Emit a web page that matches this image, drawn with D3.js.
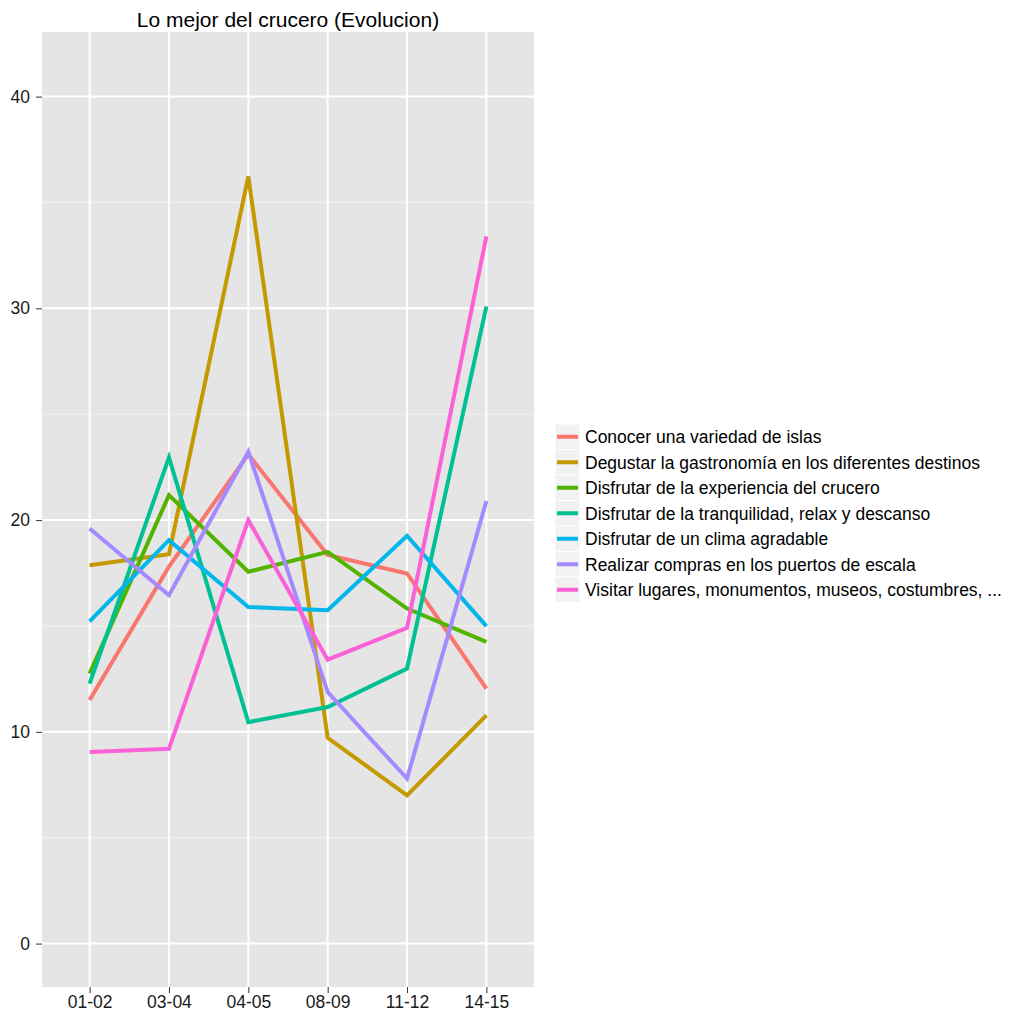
<!DOCTYPE html>
<html><head><meta charset="utf-8">
<script src="https://cdn.jsdelivr.net/npm/d3@7"></script>
<style>body{margin:0;background:#fff;} text{font-family:"Liberation Sans",Arial,sans-serif;}</style>
</head><body>
<script>
const categories = ["01-02","03-04","04-05","08-09","11-12","14-15"];
const seriesNames = [
  "Conocer una variedad de islas",
  "Degustar la gastronomía en los diferentes destinos",
  "Disfrutar de la experiencia del crucero",
  "Disfrutar de la tranquilidad, relax y descanso",
  "Disfrutar de un clima agradable",
  "Realizar compras en los puertos de escala",
  "Visitar lugares, monumentos, museos, costumbres, ..."
];
const conocer      = [11.5, 17.8, 23.1, 18.35, 17.48, 12.04];
const degustar     = [17.87, 18.39, 36.23, 9.72, 7.0, 10.78];
const experiencia  = [12.75, 21.18, 17.56, 18.5, 15.82, 14.25];
const tranquilidad = [12.28, 22.96, 10.46, 11.17, 12.99, 30.09];
const clima        = [15.22, 19.05, 15.9, 15.74, 19.26, 14.99];
const compras      = [19.6, 16.45, 23.23, 11.88, 7.79, 20.9];
const visitar      = [9.05, 9.2, 20.0, 13.41, 14.91, 33.4];
const yTicks = [0, 10, 20, 30, 40];
const yMinor = [5, 15, 25, 35];
const colors = ["#F8766D","#C49A00","#53B400","#00C094","#00B6EB","#A58AFF","#FB61D7"];
const titleText = "Lo mejor del crucero (Evolucion)";

const seriesValues = [conocer, degustar, experiencia, tranquilidad, clima, compras, visitar];
const W = 1011, H = 1014;
const panel = {left: 42, right: 534, top: 32, bottom: 987};
const FONT = "'Liberation Sans',Arial,sans-serif";

const svg = d3.select("body").append("svg").attr("width", W).attr("height", H);

const x = d3.scalePoint().domain(categories).range([panel.left, panel.right]).padding(0.6);
const y = d3.scaleLinear().domain([-2.05, 43.05]).range([panel.bottom, panel.top]);

svg.append("rect").attr("x", panel.left).attr("y", panel.top)
  .attr("width", panel.right - panel.left).attr("height", panel.bottom - panel.top)
  .attr("fill", "#E5E5E5");

const g = svg.append("g");
g.selectAll("line.minor").data(yMinor).join("line")
  .attr("x1", panel.left).attr("x2", panel.right)
  .attr("y1", d => y(d)).attr("y2", d => y(d))
  .attr("stroke", "#F2F2F2").attr("stroke-width", 1);
g.selectAll("line.majy").data(yTicks).join("line")
  .attr("x1", panel.left).attr("x2", panel.right)
  .attr("y1", d => y(d)).attr("y2", d => y(d))
  .attr("stroke", "#fff").attr("stroke-width", 2);
g.selectAll("line.majx").data(categories).join("line")
  .attr("y1", panel.top).attr("y2", panel.bottom)
  .attr("x1", d => x(d)).attr("x2", d => x(d))
  .attr("stroke", "#fff").attr("stroke-width", 2);

const line = d3.line().x((d, i) => x(categories[i])).y(d => y(d));
svg.append("g").selectAll("path").data(seriesValues).join("path")
  .attr("d", d => line(d))
  .attr("fill", "none")
  .attr("stroke", (d, i) => colors[i])
  .attr("stroke-width", 4)
  .attr("stroke-linejoin", "miter")
  .attr("stroke-linecap", "butt");

// axes
const yAxis = svg.append("g").attr("transform", `translate(${panel.left},0)`)
  .call(d3.axisLeft(y).tickValues(yTicks).tickSize(6).tickPadding(6));
yAxis.select(".domain").remove();
yAxis.selectAll(".tick line").attr("stroke", "#333").attr("stroke-width", 1);
yAxis.selectAll(".tick text").attr("fill", "#1a1a1a").style("font-size", "17.5px")
  .style("font-family", FONT);

const xAxis = svg.append("g").attr("transform", `translate(0,${panel.bottom})`)
  .call(d3.axisBottom(x).tickSize(6).tickPadding(3));
xAxis.select(".domain").remove();
xAxis.selectAll(".tick line").attr("stroke", "#333").attr("stroke-width", 1);
xAxis.selectAll(".tick text").attr("fill", "#1a1a1a").style("font-size", "17.5px")
  .style("font-family", FONT);

// title
svg.append("text").attr("x", (panel.left + panel.right) / 2).attr("y", 27)
  .attr("text-anchor", "middle").attr("fill", "#000").style("font-size", "21px")
  .style("font-family", FONT)
  .text(titleText);

// legend
const leg = svg.append("g").attr("transform", "translate(555,424)");
const rowH = 25.5;
const items = leg.selectAll("g").data(seriesNames).join("g")
  .attr("transform", (d, i) => `translate(0,${i * rowH})`);
items.append("rect").attr("x", 0).attr("y", 0).attr("width", 25).attr("height", rowH)
  .attr("fill", "#F2F2F2").attr("stroke", "#fff").attr("stroke-width", 1);
items.append("line").attr("x1", 2).attr("x2", 23).attr("y1", rowH / 2).attr("y2", rowH / 2)
  .attr("stroke", (d, i) => colors[i]).attr("stroke-width", 4);
items.append("text").attr("x", 30).attr("y", rowH / 2).attr("dy", "0.36em")
  .attr("fill", "#000").style("font-size", "17.5px").style("font-family", FONT).text(d => d);
</script>
</body></html>
